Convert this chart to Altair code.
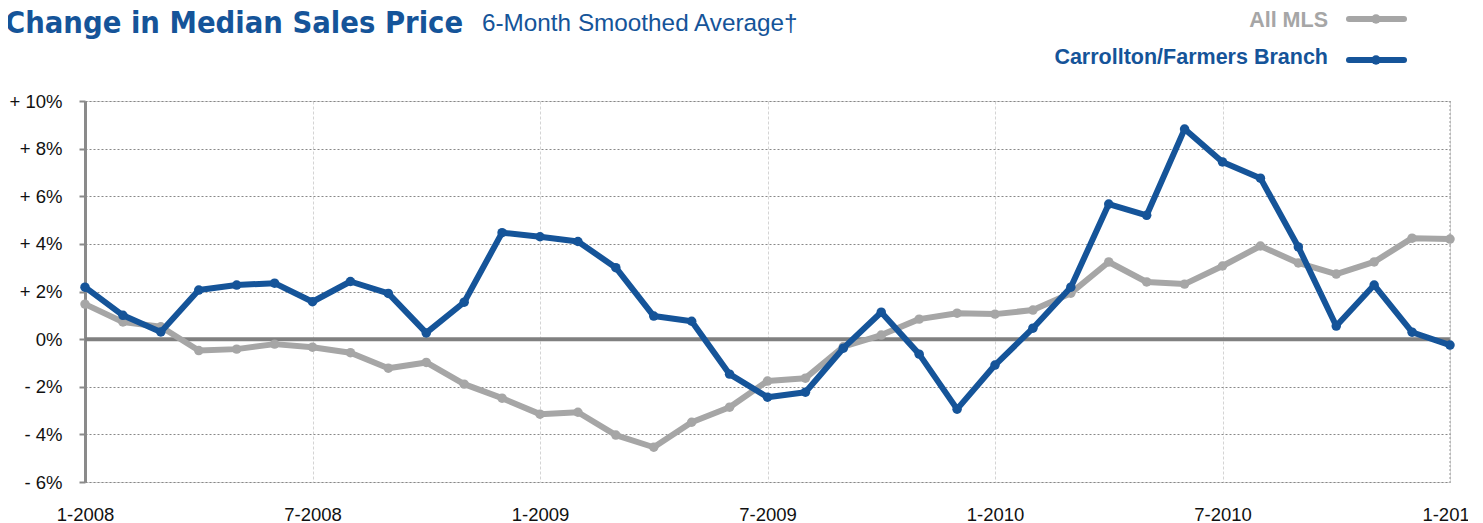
import altair as alt
import pandas as pd

# ---- data ----
month_index = list(range(37))  # 1-2008 ... 1-2011
all_mls = [1.47, 0.72, 0.52, -0.48, -0.42, -0.21, -0.34, -0.57, -1.22, -0.98,
           -1.89, -2.48, -3.15, -3.07, -4.03, -4.54, -3.49, -2.86, -1.76, -1.64,
           -0.32, 0.17, 0.84, 1.09, 1.05, 1.22, 1.93, 3.24, 2.40, 2.31,
           3.07, 3.91, 3.20, 2.73, 3.24, 4.24, 4.20]
carrollton = [2.18, 1.00, 0.30, 2.06, 2.27, 2.35, 1.57, 2.42, 1.92, 0.26,
              1.55, 4.47, 4.30, 4.10, 3.00, 0.97, 0.75, -1.47, -2.44, -2.23,
              -0.38, 1.13, -0.63, -2.94, -1.09, 0.46, 2.18, 5.67, 5.20, 8.82,
              7.44, 6.76, 3.87, 0.55, 2.27, 0.29, -0.25]
series_names = ["All MLS", "Carrollton/Farmers Branch"]
series_colors = ["#a6a6a6", "#155499"]
x_ticks = [0, 6, 12, 18, 24, 30, 36]
y_ticks = [-6, -4, -2, 0, 2, 4, 6, 8, 10]

df = pd.DataFrame({
    "m": month_index * 2,
    "v": all_mls + carrollton,
    "s": [series_names[0]] * 37 + [series_names[1]] * 37,
})

W, H = 1365, 381
color = alt.Color("s:N", scale=alt.Scale(domain=series_names, range=series_colors), legend=None)

x_enc = alt.X("m:Q", scale=alt.Scale(domain=[0, 36], nice=False, zero=False),
              axis=alt.Axis(values=x_ticks, title=None, domain=False, ticks=False,
                            grid=True, gridColor="#d4d4d4", gridDash=[3, 2], gridWidth=1,
                            labelExpr="(datum.value % 12 + 1) + '-' + (2008 + floor(datum.value / 12))",
                            labelFont="Liberation Sans", labelFontSize=18.5, labelColor="#111",
                            labelPadding=23, labelFlush=False, labelOverlap=False))
y_enc = alt.Y("v:Q", scale=alt.Scale(domain=[-6, 10], nice=False),
              axis=alt.Axis(values=y_ticks, title=None, domain=True, domainColor="#8a8a8a",
                            domainWidth=3, ticks=True, tickColor="#8a8a8a", tickWidth=2, tickSize=6,
                            grid=True, gridColor="#888", gridDash=[2, 2], gridWidth=1,
                            labelExpr="datum.value > 0 ? '+ ' + datum.value + '%' : (datum.value < 0 ? '- ' + abs(datum.value) + '%' : '0%')",
                            labelFont="Liberation Sans", labelFontSize=18.5, labelColor="#111",
                            labelPadding=17))

base = alt.Chart(df)

lines = base.mark_line(strokeWidth=6, strokeJoin="round", strokeCap="round").encode(
    x=x_enc, y=y_enc, color=color, order=alt.Order("m:Q"))
points = base.mark_circle(size=90, opacity=1).encode(x="m:Q", y="v:Q", color=color)

gray_l = lines.transform_filter(alt.datum.s == series_names[0])
gray_p = points.transform_filter(alt.datum.s == series_names[0])
blue_l = lines.transform_filter(alt.datum.s == series_names[1])
blue_p = points.transform_filter(alt.datum.s == series_names[1])

zero = alt.Chart(pd.DataFrame({"v": [0]})).mark_rule(color="#808080", strokeWidth=4).encode(y="v:Q")
right_edge = alt.Chart(pd.DataFrame({"m": [36]})).mark_rule(color="#999", strokeWidth=1, strokeDash=[2, 2]).encode(x="m:Q")

one = pd.DataFrame({"a": [0]})
title = alt.Chart(one).mark_text(text="Change in Median Sales Price",
                                 font="DejaVu Sans Condensed",
                                 fontWeight="bold", fontSize=30.6, color="#155499", align="left",
                                 baseline="alphabetic").encode(x=alt.value(-80), y=alt.value(-68))
subtitle = alt.Chart(one).mark_text(text="6-Month Smoothed Average†", font="Liberation Sans",
                                    fontSize=24.3, color="#155499", align="left",
                                    baseline="alphabetic").encode(x=alt.value(397), y=alt.value(-70))

leg = pd.DataFrame({"s": series_names, "k": [0, 1]})
leg_text = alt.Chart(leg).transform_calculate(py="datum.k == 0 ? -74 : -37").mark_text(
    font="Liberation Sans", fontWeight="bold", fontSize=21.5, align="right", baseline="alphabetic").encode(
    text="s:N", x=alt.value(1243), y=alt.Y("py:Q", scale=None), color=color)
leg_line = alt.Chart(leg).transform_calculate(py="datum.k == 0 ? -82 : -41").mark_rule(
    strokeWidth=6, strokeCap="round").encode(
    x=alt.value(1264), x2=alt.value(1319), y=alt.Y("py:Q", scale=None), color=color)
leg_dot = alt.Chart(leg).transform_calculate(py="datum.k == 0 ? -82 : -41").mark_circle(
    size=90, opacity=1).encode(x=alt.value(1291), y=alt.Y("py:Q", scale=None), color=color)

chart = alt.layer(zero, right_edge, gray_l, gray_p, blue_l, blue_p,
                  title, subtitle, leg_line, leg_dot, leg_text).properties(
    width=W, height=H,
    autosize=alt.AutoSizeParams(type="none"),
    padding={"left": 77, "top": 93, "right": 18, "bottom": 40},
).configure_view(strokeWidth=0).configure(background="white")

chart.save("out.html", embed_options={"renderer": "svg", "actions": False})
